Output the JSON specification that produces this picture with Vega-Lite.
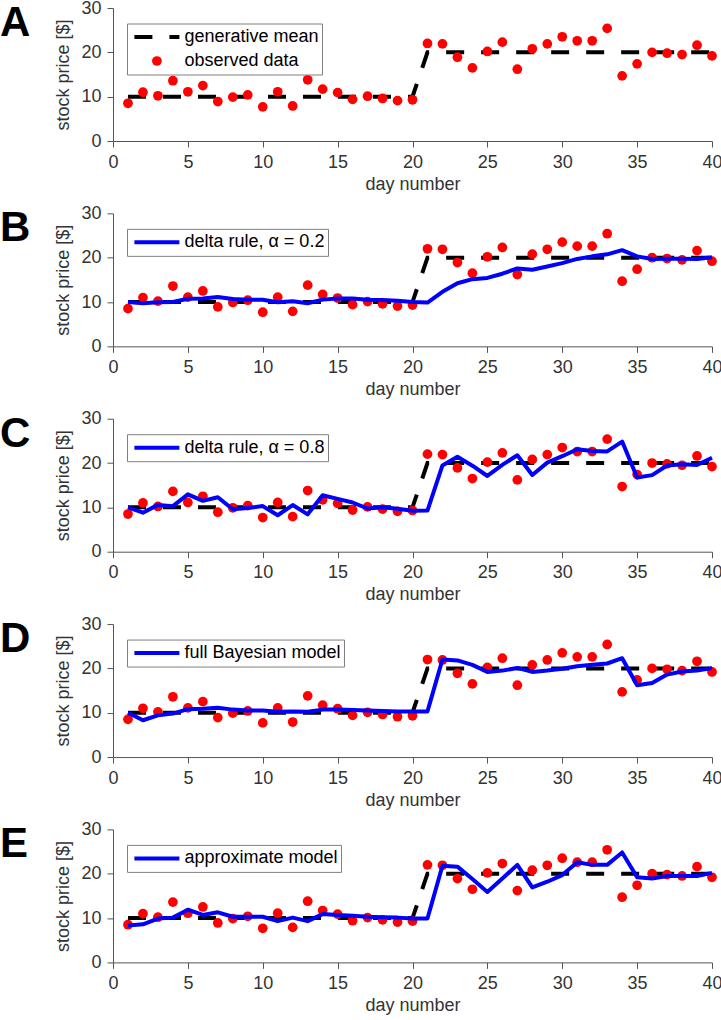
{
  "$schema": "https://vega.github.io/schema/vega-lite/v6.json",
  "background": "white",
  "padding": {"left": 0, "top": -1, "right": 0, "bottom": 0},
  "spacing": 72.35,
  "bounds": "flush",
  "resolve": {"scale": {"color": "independent", "stroke": "independent", "shape": "independent", "size": "independent", "strokeWidth": "independent"}, "legend": {"color": "independent"}},
  "config": {
    "font": "Liberation Sans",
    "view": {"stroke": null},
    "axis": {
      "domainColor": "#555555", "tickColor": "#555555", "labelColor": "#333333", "titleColor": "#333333",
      "labelFontSize": 18, "titleFontSize": 18, "titleFontWeight": "normal", "grid": false, "tickSize": 6,
      "labelFont": "Liberation Sans", "titleFont": "Liberation Sans", "labelOverlap": false
    },
    "axisX": {"labelPadding": 6, "titlePadding": 4, "labelFlush": false},
    "axisY": {"labelPadding": 6, "titlePadding": 8},
    "legend": {
      "orient": "none", "legendX": 14, "legendY": 15.5, "title": null,
      "strokeColor": "#808080", "fillColor": "white", "padding": 3,
      "labelFontSize": 18, "labelColor": "#000000", "labelFont": "Liberation Sans",
      "symbolSize": 2025, "symbolStrokeWidth": 4, "symbolType": "stroke",
      "clipHeight": 21, "rowPadding": 3, "symbolOffset": 2.4, "labelOffset": 3, "labelLimit": 400
    },
    "title": {
      "anchor": "start", "frame": "group", "fontSize": 42, "fontWeight": "bold",
      "font": "Liberation Sans", "color": "#000000", "baseline": "top", "dx": -113, "dy": 50, "offset": 0
    }
  },
  "datasets": {
    "obs": [
      {"day": 1, "price": 8.5}, {"day": 2, "price": 11.0}, {"day": 3, "price": 10.2}, {"day": 4, "price": 13.6},
      {"day": 5, "price": 11.1}, {"day": 6, "price": 12.5}, {"day": 7, "price": 8.9}, {"day": 8, "price": 9.9},
      {"day": 9, "price": 10.4}, {"day": 10, "price": 7.7}, {"day": 11, "price": 11.1}, {"day": 12, "price": 7.9},
      {"day": 13, "price": 13.8}, {"day": 14, "price": 11.7}, {"day": 15, "price": 10.9}, {"day": 16, "price": 9.4},
      {"day": 17, "price": 10.1}, {"day": 18, "price": 9.6}, {"day": 19, "price": 9.1}, {"day": 20, "price": 9.3},
      {"day": 21, "price": 22.0}, {"day": 22, "price": 21.9}, {"day": 23, "price": 18.9}, {"day": 24, "price": 16.5},
      {"day": 25, "price": 20.2}, {"day": 26, "price": 22.3}, {"day": 27, "price": 16.2}, {"day": 28, "price": 20.8},
      {"day": 29, "price": 21.9}, {"day": 30, "price": 23.5}, {"day": 31, "price": 22.6}, {"day": 32, "price": 22.6},
      {"day": 33, "price": 25.4}, {"day": 34, "price": 14.7}, {"day": 35, "price": 17.4}, {"day": 36, "price": 20.0},
      {"day": 37, "price": 19.8}, {"day": 38, "price": 19.5}, {"day": 39, "price": 21.6}, {"day": 40, "price": 19.2}
    ],
    "mean": [
      {"day": 1, "price": 10}, {"day": 20, "price": 10}, {"day": 21, "price": 20}, {"day": 40, "price": 20}
    ],
    "modelB": [
      {"day": 1, "price": 10.0}, {"day": 2, "price": 9.70}, {"day": 3, "price": 9.96}, {"day": 4, "price": 10.01},
      {"day": 5, "price": 10.73}, {"day": 6, "price": 10.80}, {"day": 7, "price": 11.14}, {"day": 8, "price": 10.69},
      {"day": 9, "price": 10.53}, {"day": 10, "price": 10.51}, {"day": 11, "price": 9.95}, {"day": 12, "price": 10.18},
      {"day": 13, "price": 9.72}, {"day": 14, "price": 10.54}, {"day": 15, "price": 10.77}, {"day": 16, "price": 10.80},
      {"day": 17, "price": 10.52}, {"day": 18, "price": 10.43}, {"day": 19, "price": 10.27}, {"day": 20, "price": 10.03},
      {"day": 21, "price": 9.89}, {"day": 22, "price": 12.31}, {"day": 23, "price": 14.23}, {"day": 24, "price": 15.16},
      {"day": 25, "price": 15.43}, {"day": 26, "price": 16.38}, {"day": 27, "price": 17.57}, {"day": 28, "price": 17.29},
      {"day": 29, "price": 18.00}, {"day": 30, "price": 18.78}, {"day": 31, "price": 19.72}, {"day": 32, "price": 20.30},
      {"day": 33, "price": 20.76}, {"day": 34, "price": 21.69}, {"day": 35, "price": 20.29}, {"day": 36, "price": 19.71},
      {"day": 37, "price": 19.77}, {"day": 38, "price": 19.78}, {"day": 39, "price": 19.72}, {"day": 40, "price": 20.10}
    ],
    "modelC": [
      {"day": 1, "price": 10.0}, {"day": 2, "price": 8.8}, {"day": 3, "price": 10.56}, {"day": 4, "price": 10.27},
      {"day": 5, "price": 12.93}, {"day": 6, "price": 11.47}, {"day": 7, "price": 12.29}, {"day": 8, "price": 9.58},
      {"day": 9, "price": 9.84}, {"day": 10, "price": 10.29}, {"day": 11, "price": 8.22}, {"day": 12, "price": 10.52},
      {"day": 13, "price": 8.43}, {"day": 14, "price": 12.73}, {"day": 15, "price": 11.91}, {"day": 16, "price": 11.10},
      {"day": 17, "price": 9.74}, {"day": 18, "price": 10.03}, {"day": 19, "price": 9.69}, {"day": 20, "price": 9.22},
      {"day": 21, "price": 9.28}, {"day": 22, "price": 19.46}, {"day": 23, "price": 21.41}, {"day": 24, "price": 19.40},
      {"day": 25, "price": 17.08}, {"day": 26, "price": 19.58}, {"day": 27, "price": 21.76}, {"day": 28, "price": 17.31},
      {"day": 29, "price": 20.10}, {"day": 30, "price": 21.54}, {"day": 31, "price": 23.11}, {"day": 32, "price": 22.70},
      {"day": 33, "price": 22.62}, {"day": 34, "price": 24.84}, {"day": 35, "price": 16.73}, {"day": 36, "price": 17.27},
      {"day": 37, "price": 19.45}, {"day": 38, "price": 19.73}, {"day": 39, "price": 19.55}, {"day": 40, "price": 21.19}
    ],
    "modelD": [
      {"day": 1, "price": 10.0}, {"day": 2, "price": 8.3}, {"day": 3, "price": 9.4}, {"day": 4, "price": 9.8},
      {"day": 5, "price": 10.8}, {"day": 6, "price": 10.9}, {"day": 7, "price": 11.1}, {"day": 8, "price": 10.7},
      {"day": 9, "price": 10.5}, {"day": 10, "price": 10.5}, {"day": 11, "price": 10.2}, {"day": 12, "price": 10.3},
      {"day": 13, "price": 10.2}, {"day": 14, "price": 10.7}, {"day": 15, "price": 10.7}, {"day": 16, "price": 10.6},
      {"day": 17, "price": 10.5}, {"day": 18, "price": 10.4}, {"day": 19, "price": 10.3}, {"day": 20, "price": 10.25},
      {"day": 21, "price": 10.3}, {"day": 22, "price": 22.0}, {"day": 23, "price": 21.8}, {"day": 24, "price": 20.8},
      {"day": 25, "price": 19.2}, {"day": 26, "price": 19.5}, {"day": 27, "price": 20.1}, {"day": 28, "price": 19.2},
      {"day": 29, "price": 19.5}, {"day": 30, "price": 19.9}, {"day": 31, "price": 20.5}, {"day": 32, "price": 20.8},
      {"day": 33, "price": 21.1}, {"day": 34, "price": 22.3}, {"day": 35, "price": 16.2}, {"day": 36, "price": 16.7},
      {"day": 37, "price": 18.6}, {"day": 38, "price": 19.3}, {"day": 39, "price": 19.5}, {"day": 40, "price": 20.1}
    ],
    "modelE": [
      {"day": 1, "price": 8.3}, {"day": 2, "price": 8.6}, {"day": 3, "price": 9.9}, {"day": 4, "price": 10.1},
      {"day": 5, "price": 11.9}, {"day": 6, "price": 10.7}, {"day": 7, "price": 11.3}, {"day": 8, "price": 10.3},
      {"day": 9, "price": 10.3}, {"day": 10, "price": 10.3}, {"day": 11, "price": 9.3}, {"day": 12, "price": 10.1},
      {"day": 13, "price": 9.3}, {"day": 14, "price": 10.9}, {"day": 15, "price": 10.7}, {"day": 16, "price": 10.5},
      {"day": 17, "price": 10.3}, {"day": 18, "price": 10.2}, {"day": 19, "price": 10.1}, {"day": 20, "price": 9.9},
      {"day": 21, "price": 9.9}, {"day": 22, "price": 21.8}, {"day": 23, "price": 21.6}, {"day": 24, "price": 18.8},
      {"day": 25, "price": 15.9}, {"day": 26, "price": 18.9}, {"day": 27, "price": 22.0}, {"day": 28, "price": 16.9},
      {"day": 29, "price": 18.2}, {"day": 30, "price": 19.7}, {"day": 31, "price": 22.6}, {"day": 32, "price": 22.0},
      {"day": 33, "price": 22.0}, {"day": 34, "price": 24.8}, {"day": 35, "price": 19.2}, {"day": 36, "price": 18.9},
      {"day": 37, "price": 19.5}, {"day": 38, "price": 19.5}, {"day": 39, "price": 19.5}, {"day": 40, "price": 20.2}
    ]
  },
  "vconcat": [
    {
      "width": 599, "height": 133,
      "title": {"text": "A"},
      "encoding": {
        "x": {"field": "day", "type": "quantitative", "scale": {"domain": [0, 40]}, "axis": {"values": [0, 5, 10, 15, 20, 25, 30, 35, 40], "title": "day number"}},
        "y": {"field": "price", "type": "quantitative", "scale": {"domain": [0, 30]}, "axis": {"values": [0, 10, 20, 30], "title": "stock price [$]"}}
      },
      "layer": [
        {"data": {"name": "mean"}, "mark": {"type": "line", "color": "#000000", "strokeWidth": 4, "strokeDash": [18, 17]}},
        {"data": {"name": "obs"}, "mark": {"type": "point", "filled": true, "opacity": 1, "fill": "#ff0000"},
         "encoding": {
           "stroke": {"datum": "observed data", "type": "nominal",
             "scale": {"domain": ["generative mean", "observed data"], "range": ["#000000", "transparent"]},
             "legend": {"symbolDash": [18, 17], "symbolFillColor": "#ff0000"}},
           "shape": {"datum": "observed data", "type": "nominal",
             "scale": {"domain": ["generative mean", "observed data"], "range": ["stroke", "circle"]},
             "legend": {"symbolDash": [18, 17], "symbolFillColor": "#ff0000"}},
           "size": {"datum": "observed data", "type": "ordinal",
             "scale": {"type": "point", "padding": 0, "domain": ["generative mean", "observed data"], "range": [2025, 95]},
             "legend": {"symbolDash": [18, 17], "symbolFillColor": "#ff0000"}},
           "strokeWidth": {"datum": "observed data", "type": "ordinal",
             "scale": {"type": "point", "padding": 0, "domain": ["generative mean", "observed data"], "range": [4, 0]},
             "legend": {"symbolDash": [18, 17], "symbolFillColor": "#ff0000"}}
         }}
      ]
    },
    {
      "width": 599, "height": 133,
      "title": {"text": "B"},
      "encoding": {
        "x": {"field": "day", "type": "quantitative", "scale": {"domain": [0, 40]}, "axis": {"values": [0, 5, 10, 15, 20, 25, 30, 35, 40], "title": "day number"}},
        "y": {"field": "price", "type": "quantitative", "scale": {"domain": [0, 30]}, "axis": {"values": [0, 10, 20, 30], "title": "stock price [$]"}}
      },
      "layer": [
        {"data": {"name": "mean"}, "mark": {"type": "line", "color": "#000000", "strokeWidth": 4, "strokeDash": [18, 17]}},
        {"data": {"name": "obs"}, "mark": {"type": "point", "filled": true, "size": 95, "opacity": 1, "color": "#ff0000", "strokeWidth": 0}},
        {"data": {"name": "modelB"}, "mark": {"type": "line", "strokeWidth": 4, "strokeJoin": "round"},
         "encoding": {"color": {"datum": "delta rule, α = 0.2", "type": "nominal", "scale": {"range": ["#0000ff"]}}}}
      ]
    },
    {
      "width": 599, "height": 133,
      "title": {"text": "C"},
      "encoding": {
        "x": {"field": "day", "type": "quantitative", "scale": {"domain": [0, 40]}, "axis": {"values": [0, 5, 10, 15, 20, 25, 30, 35, 40], "title": "day number"}},
        "y": {"field": "price", "type": "quantitative", "scale": {"domain": [0, 30]}, "axis": {"values": [0, 10, 20, 30], "title": "stock price [$]"}}
      },
      "layer": [
        {"data": {"name": "mean"}, "mark": {"type": "line", "color": "#000000", "strokeWidth": 4, "strokeDash": [18, 17]}},
        {"data": {"name": "obs"}, "mark": {"type": "point", "filled": true, "size": 95, "opacity": 1, "color": "#ff0000", "strokeWidth": 0}},
        {"data": {"name": "modelC"}, "mark": {"type": "line", "strokeWidth": 4, "strokeJoin": "round"},
         "encoding": {"color": {"datum": "delta rule, α = 0.8", "type": "nominal", "scale": {"range": ["#0000ff"]}}}}
      ]
    },
    {
      "width": 599, "height": 133,
      "title": {"text": "D"},
      "encoding": {
        "x": {"field": "day", "type": "quantitative", "scale": {"domain": [0, 40]}, "axis": {"values": [0, 5, 10, 15, 20, 25, 30, 35, 40], "title": "day number"}},
        "y": {"field": "price", "type": "quantitative", "scale": {"domain": [0, 30]}, "axis": {"values": [0, 10, 20, 30], "title": "stock price [$]"}}
      },
      "layer": [
        {"data": {"name": "mean"}, "mark": {"type": "line", "color": "#000000", "strokeWidth": 4, "strokeDash": [18, 17]}},
        {"data": {"name": "obs"}, "mark": {"type": "point", "filled": true, "size": 95, "opacity": 1, "color": "#ff0000", "strokeWidth": 0}},
        {"data": {"name": "modelD"}, "mark": {"type": "line", "strokeWidth": 4, "strokeJoin": "round"},
         "encoding": {"color": {"datum": "full Bayesian model", "type": "nominal", "scale": {"range": ["#0000ff"]}}}}
      ]
    },
    {
      "width": 599, "height": 133,
      "title": {"text": "E"},
      "encoding": {
        "x": {"field": "day", "type": "quantitative", "scale": {"domain": [0, 40]}, "axis": {"values": [0, 5, 10, 15, 20, 25, 30, 35, 40], "title": "day number"}},
        "y": {"field": "price", "type": "quantitative", "scale": {"domain": [0, 30]}, "axis": {"values": [0, 10, 20, 30], "title": "stock price [$]"}}
      },
      "layer": [
        {"data": {"name": "mean"}, "mark": {"type": "line", "color": "#000000", "strokeWidth": 4, "strokeDash": [18, 17]}},
        {"data": {"name": "obs"}, "mark": {"type": "point", "filled": true, "size": 95, "opacity": 1, "color": "#ff0000", "strokeWidth": 0}},
        {"data": {"name": "modelE"}, "mark": {"type": "line", "strokeWidth": 4, "strokeJoin": "round"},
         "encoding": {"color": {"datum": "approximate model", "type": "nominal", "scale": {"range": ["#0000ff"]}}}}
      ]
    }
  ]
}
